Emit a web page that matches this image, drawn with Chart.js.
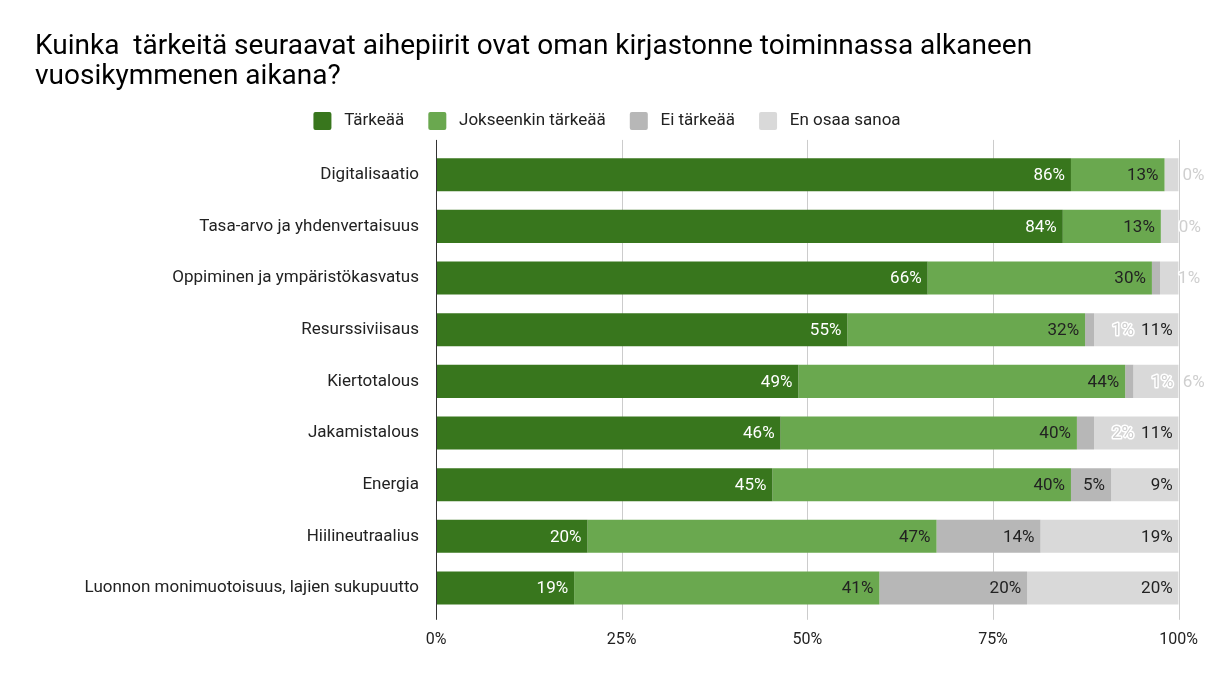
<!DOCTYPE html>
<html>
<head>
<meta charset="utf-8">
<script src="https://cdn.jsdelivr.net/npm/chart.js@4"></script>
<style>
  body { margin: 0; background: #fff; }
  #wrap { width: 1207px; height: 688px; }
</style>
</head>
<body>
<div id="wrap"><canvas id="chart"></canvas></div>
<script>
// data (percent of answers)
const topics = ['Digitalisaatio', 'Tasa-arvo ja yhdenvertaisuus', 'Oppiminen ja ympäristökasvatus',
  'Resurssiviisaus', 'Kiertotalous', 'Jakamistalous', 'Energia', 'Hiilineutraalius',
  'Luonnon monimuotoisuus, lajien sukupuutto']
const tarkeaa = [85.5, 84.4, 66.2, 55.4, 48.8, 46.4, 45.3, 20.4, 18.6]
const jokseenkin = [12.6, 13.2, 30.2, 32.0, 44.0, 39.9, 40.2, 47.0, 41.1]
const eiTarkeaa = [0, 0, 1.1, 1.2, 1.1, 2.3, 5.4, 14.0, 19.9]
const enOsaa = [1.9, 2.4, 2.5, 11.4, 6.1, 11.4, 9.1, 18.6, 20.4]
const xTicks = [0, 25, 50, 75, 100]

const ctx = document.getElementById('chart').getContext('2d')
const font = 'Roboto'

// grid lines + left axis line (they reach a bit past the bars, like the original)
const gridPlugin = {
  id: 'grid',
  beforeDatasetsDraw(chart) {
    const c = chart.ctx, a = chart.chartArea, x = chart.scales.x
    c.save()
    c.strokeStyle = '#cccccc'
    c.lineWidth = 1
    xTicks.slice(1).forEach(t => {
      const px = Math.round(x.getPixelForValue(t)) + 0.5
      c.beginPath(); c.moveTo(px, a.top - 9); c.lineTo(px, a.bottom + 6); c.stroke()
    })
    c.restore()
  },
  afterDatasetsDraw(chart) {
    const c = chart.ctx, a = chart.chartArea, x = chart.scales.x
    const px = Math.round(x.getPixelForValue(0)) + 0.5
    c.save()
    c.strokeStyle = '#333'
    c.lineWidth = 1
    c.beginPath(); c.moveTo(px, a.top - 9); c.lineTo(px, a.bottom + 6); c.stroke()
    c.restore()
  }
}

// value labels at the end of each piece, spill to the right when they don't fit
const labelPlugin = {
  id: 'vals',
  afterDatasetsDraw(chart) {
    const c = chart.ctx
    c.save()
    c.font = '17px ' + font
    c.textBaseline = 'middle'
    const lastEnd = []
    chart.data.datasets.forEach((ds, i) => {
      chart.getDatasetMeta(i).data.forEach((bar, j) => {
        const txt = Math.round(ds.data[j]) + '%'
        const w = c.measureText(txt).width
        const prev = lastEnd[j] || 0
        const startOk = Math.max(bar.base + 6, prev + 6)
        if (bar.x - 6 - w >= startOk) {
          c.textAlign = 'right'
          c.fillStyle = i === 0 ? '#ffffff' : '#222222'
          c.fillText(txt, bar.x - 6, bar.y + 1)
          lastEnd[j] = bar.x
        } else {
          const left = Math.max(bar.x + (i === 3 ? 4 : 18), prev + 8)
          c.textAlign = 'left'
          c.lineWidth = 3
          c.lineJoin = 'round'
          c.strokeStyle = '#ffffff'
          c.strokeText(txt, left, bar.y + 1)
          c.fillStyle = '#cfcfcf'
          c.fillText(txt, left, bar.y + 1)
          lastEnd[j] = left + w
        }
      })
    })
    c.restore()
  }
}

const data = {
  labels: topics,
  datasets: [
    { label: 'Tärkeää', data: tarkeaa, backgroundColor: '#38761d' },
    { label: 'Jokseenkin tärkeää', data: jokseenkin, backgroundColor: '#6aa84f' },
    { label: 'Ei tärkeää', data: eiTarkeaa, backgroundColor: '#b7b7b7' },
    { label: 'En osaa sanoa', data: enOsaa, backgroundColor: '#d9d9d9' }
  ]
}

const config = {
  type: 'bar',
  data: data,
  plugins: [gridPlugin, labelPlugin],
  options: {
    indexAxis: 'y',
    responsive: true,
    maintainAspectRatio: false,
    animation: false,
    categoryPercentage: 0.64,
    barPercentage: 1,
    layout: { padding: { left: 35, right: 28, top: 0, bottom: 29 } },
    plugins: {
      title: {
        display: true,
        text: ['Kuinka  tärkeitä seuraavat aihepiirit ovat oman kirjastonne toiminnassa alkaneen',
               'vuosikymmenen aikana?'],
        align: 'start',
        color: '#000',
        font: { family: font, size: 28, weight: 'normal', lineHeight: 1.07 },
        padding: { top: 32, bottom: -4 }
      },
      legend: {
        labels: {
          color: '#222',
          font: { family: font, size: 17 },
          boxWidth: 18,
          boxHeight: 18,
          padding: 24,
          useBorderRadius: true,
          borderRadius: 2,
          // a bit more room between box and text
          generateLabels: chart => Chart.defaults.plugins.legend.labels.generateLabels(chart)
            .map(l => Object.assign(l, { text: ' ' + l.text }))
        }
      },
      tooltip: { enabled: false }
    },
    scales: {
      x: {
        stacked: true,
        min: 0,
        max: 100,
        afterBuildTicks(s) { s.ticks = xTicks.map(v => ({ value: v })) },
        grid: { display: false },
        border: { display: false },
        ticks: {
          color: '#222',
          padding: 9,
          font: { family: font, size: 16 },
          callback: v => v + '%'
        }
      },
      // empty spacer between legend and bars
      gap: {
        type: 'linear',
        position: 'top',
        min: 0,
        max: 1,
        grid: { display: false },
        border: { display: false },
        ticks: { display: false },
        afterFit(s) { s.height = 9 }
      },
      y: {
        stacked: true,
        afterFit(s) { s.width = 401 },
        grid: { display: false },
        border: { display: false },
        ticks: {
          color: '#222',
          padding: 9,
          font: { family: font, size: 17 }
        }
      }
    }
  }
}

const myChart = new Chart(ctx, config)
</script>
</body>
</html>
